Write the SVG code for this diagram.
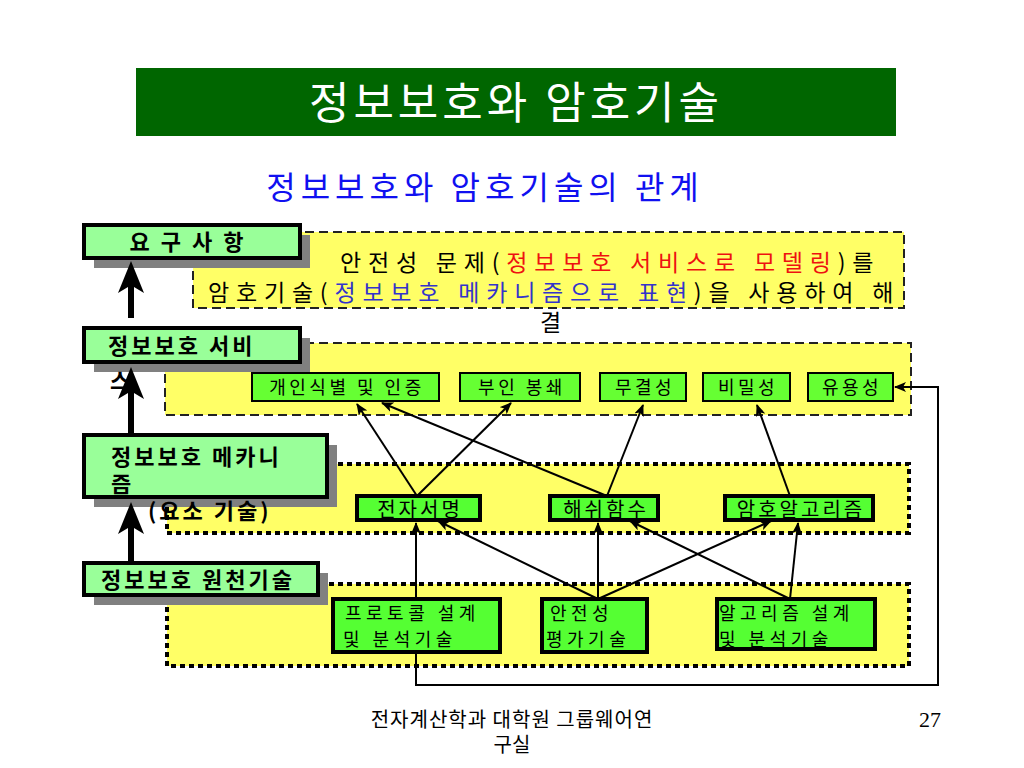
<svg xmlns="http://www.w3.org/2000/svg" width="1024" height="768" viewBox="0 0 1024 768">
<defs>
<style>
.k{font-family:"Noto Sans CJK KR","Noto Sans",sans-serif;}
.lbl{font-family:"Noto Sans CJK KR","Noto Sans",sans-serif;font-weight:bold;font-size:22px;fill:#000;letter-spacing:3px;}
.sm{font-family:"Noto Sans CJK KR","Noto Sans",sans-serif;font-size:18px;fill:#000;letter-spacing:3.5px;}
.md{font-family:"Noto Sans CJK KR","Noto Sans",sans-serif;font-size:20px;fill:#000;letter-spacing:3px;}
.sr{font-family:"Noto Sans CJK KR","Noto Sans",sans-serif;font-size:18px;fill:#000;letter-spacing:4.5px;}
.lbox{fill:#99FF99;stroke:#000;stroke-width:4;}
.shadow{fill:#808080;}
.gbox{fill:#66FF33;stroke:#000;stroke-width:2;}
.mbox{fill:#55FF33;stroke:#000;stroke-width:4;}
.dash{fill:#FFFF66;stroke:#222;stroke-width:2;stroke-dasharray:9,5;}
.dot{fill:#FFFF66;stroke:#000;stroke-width:4;stroke-dasharray:5,4;}
.cn{fill:none;stroke:#000;stroke-width:2;}
</style>
<marker id="ah" markerWidth="12" markerHeight="10" refX="11" refY="5" orient="auto" markerUnits="userSpaceOnUse">
<path d="M0,0 L12,5 L0,10 L3,5 Z" fill="#000"/>
</marker>
</defs>
<rect width="1024" height="768" fill="#fff"/>

<g id="title">
<rect x="136" y="68" width="760" height="68" fill="#006600"/>
<text x="516" y="119" class="k" font-size="44" fill="#fff" text-anchor="middle" letter-spacing="4">정보보호와 암호기술</text>
</g>
<g id="subtitle">
<text x="485" y="199" class="k" font-size="32" fill="#1010F0" text-anchor="middle" letter-spacing="5">정보보호와 암호기술의 관계</text>
</g>

<g id="regions">
<rect id="req-region" x="193" y="232" width="711" height="76" class="dash"/>
<rect id="svc-region" x="165" y="343" width="746" height="72" class="dash"/>
<rect id="mech-region" x="167" y="464" width="742" height="69" class="dot"/>
<rect id="src-region" x="167" y="584" width="742" height="82" class="dot"/>
</g>

<g id="req-text" class="k" font-size="23" fill="#000" letter-spacing="6.8">
<text x="340" y="271">안전성 문제(<tspan fill="#EE1111">정보보호 서비스로 모델링</tspan>)를</text>
<text x="208" y="301">암호기술(<tspan fill="#3333CC">정보보호 메카니즘으로 표현</tspan>)을 사용하여  해</text>
<text x="540" y="331">결</text>
</g>

<g id="node-req">
<rect x="94" y="235" width="216" height="33" class="shadow"/>
<rect x="84" y="225" width="216" height="33" class="lbox"/>
<text x="188" y="250" class="lbl" text-anchor="middle" letter-spacing="4">요 구 사 항</text>
</g>
<g id="node-svc">
<rect x="94" y="338" width="216" height="34" class="shadow"/>
<rect x="84" y="328" width="216" height="34" class="lbox"/>
<text x="108" y="354" class="lbl" letter-spacing="6.5">정보보호 서비</text>
<text x="110" y="389" class="lbl">스</text>
</g>
<g id="node-mech">
<rect x="94" y="445" width="243" height="62" class="shadow"/>
<rect x="84" y="435" width="243" height="62" class="lbox"/>
<text x="111" y="465" class="lbl" letter-spacing="5">정보보호 메카니</text>
<text x="111" y="492" class="lbl">즘</text>
<text x="148" y="519" class="lbl">(요소 기술)</text>
</g>
<g id="node-src">
<rect x="94" y="573" width="234" height="32" class="shadow"/>
<rect x="84" y="563" width="234" height="32" class="lbox"/>
<text x="101" y="588" class="lbl" letter-spacing="5.5">정보보호 원천기술</text>
</g>

<g id="svc-nodes">
<g id="n-auth"><rect x="252" y="373" width="187" height="28" class="gbox"/><text x="347" y="394" class="sm" text-anchor="middle">개인식별 및 인증</text></g>
<g id="n-nonrep"><rect x="460" y="373" width="120" height="28" class="gbox"/><text x="522" y="394" class="sm" text-anchor="middle">부인 봉쇄</text></g>
<g id="n-integ"><rect x="600" y="373" width="86" height="28" class="gbox"/><text x="645" y="394" class="sm" text-anchor="middle">무결성</text></g>
<g id="n-conf"><rect x="703" y="373" width="87" height="28" class="gbox"/><text x="748" y="394" class="sm" text-anchor="middle">비밀성</text></g>
<g id="n-avail"><rect x="808" y="373" width="85" height="28" class="gbox"/><text x="852" y="394" class="sm" text-anchor="middle">유용성</text></g>
</g>

<g id="mech-nodes">
<g id="n-sig"><rect x="357" y="496" width="123" height="24" class="mbox"/><text x="420" y="517" class="md" text-anchor="middle" letter-spacing="4">전자서명</text></g>
<g id="n-hash"><rect x="550" y="496" width="108" height="24" class="mbox"/><text x="606" y="517" class="md" text-anchor="middle" letter-spacing="3">해쉬함수</text></g>
<g id="n-algo"><rect x="725" y="496" width="148" height="24" class="mbox"/><text x="801" y="517" class="md" text-anchor="middle" letter-spacing="3.5">암호알고리즘</text></g>
</g>

<g id="src-nodes">
<g id="n-proto"><rect x="333" y="599" width="167" height="53" class="mbox"/><text x="345" y="620" class="sr">프로토콜 설계</text><text x="343" y="646" class="sr">및 분석기술</text></g>
<g id="n-eval"><rect x="542" y="599" width="105" height="53" class="mbox"/><text x="550" y="620" class="sr">안전성</text><text x="546" y="646" class="sr">평가기술</text></g>
<g id="n-algd"><rect x="717" y="599" width="158" height="50" class="mbox"/><text x="719" y="620" class="sr">알고리즘 설계</text><text x="719" y="646" class="sr">및 분석기술</text></g>
</g>

<g id="connectors">
<g id="thick-arrows" fill="#000">
<rect x="128" y="282" width="6" height="36"/>
<path d="M131,261 L144,293 L134,287 L128,287 L118,293 Z"/>
<rect x="128" y="390" width="6" height="45"/>
<path d="M131,367 L144,399 L134,393 L128,393 L118,399 Z"/>
<rect x="128" y="524" width="6" height="39"/>
<path d="M131,502 L144,534 L134,528 L128,528 L118,534 Z"/>
</g>
<g class="cn" marker-end="url(#ah)">
<line x1="417" y1="496" x2="357" y2="404"/>
<line x1="417" y1="496" x2="511" y2="403"/>
<line x1="607" y1="496" x2="382" y2="403"/>
<line x1="607" y1="496" x2="643" y2="405"/>
<line x1="790" y1="496" x2="757" y2="405"/>
<line x1="416" y1="599" x2="416" y2="523"/>
<line x1="598" y1="599" x2="598" y2="523"/>
<line x1="598" y1="599" x2="438" y2="521"/>
<line x1="598" y1="599" x2="771" y2="521"/>
<line x1="790" y1="599" x2="630" y2="521"/>
<line x1="790" y1="599" x2="798" y2="523"/>
<polyline points="416,652 416,685 938,685 938,387 895,387"/>
</g>
</g>

<g id="footer" class="k" fill="#000">
<text x="512" y="727" font-size="20" text-anchor="middle" letter-spacing="1">전자계산학과 대학원 그룹웨어연</text>
<text x="512" y="752" font-size="20" text-anchor="middle">구실</text>
<text x="930" y="727" font-size="22" font-family="Liberation Serif, serif" text-anchor="middle">27</text>
</g>
</svg>
